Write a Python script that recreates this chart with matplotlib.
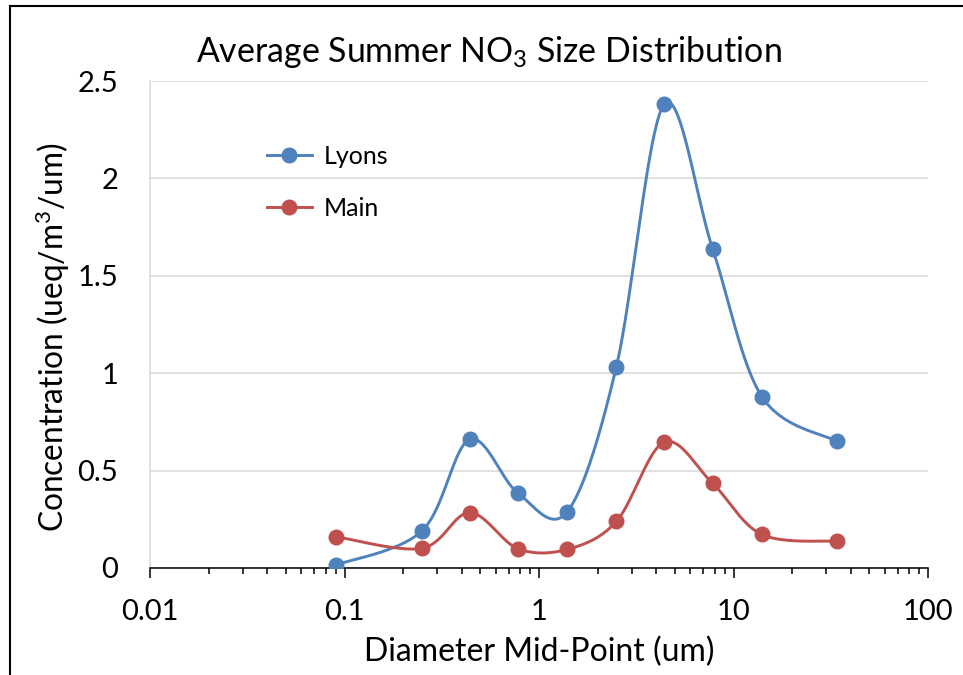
import numpy as np
import matplotlib
matplotlib.use("Agg")
import matplotlib.pyplot as plt
from matplotlib.lines import Line2D
from matplotlib.ticker import LogLocator, FixedLocator, FuncFormatter, NullFormatter

plt.rcParams['font.family'] = ['Lato', 'DejaVu Sans']
plt.rcParams['mathtext.default'] = 'regular'

# size distribution, summer averages (ueq/m3/um)
diameter = [0.09, 0.25, 0.44, 0.78, 1.4, 2.5, 4.4, 7.8, 14, 34]
lyons = [0.015, 0.19, 0.66, 0.384, 0.29, 1.034, 2.38, 1.64, 0.879, 0.651]
main = [0.161, 0.101, 0.284, 0.099, 0.096, 0.239, 0.646, 0.435, 0.172, 0.137]

blue = '#4F81BD'
red = '#C0504D'


def smooth(xs, ys, n=40):
    # bezier curve through every point, built on log10(x) to follow the log axis
    pts = np.column_stack([np.log10(xs), np.asarray(ys, float)])
    pad = np.vstack([pts[0], pts, pts[-1]])
    t = np.linspace(0, 1, n)[:, None]
    out = []
    for i in range(len(pts) - 1):
        p0, p1, p2, p3 = pad[i], pad[i + 1], pad[i + 2], pad[i + 3]
        c1 = p1 + (p2 - p0) / 6
        c2 = p2 - (p3 - p1) / 6
        seg = (1 - t) ** 3 * p1 + 3 * (1 - t) ** 2 * t * c1 + 3 * (1 - t) * t ** 2 * c2 + t ** 3 * p2
        out.append(seg if i == 0 else seg[1:])
    out = np.vstack(out)
    return 10 ** out[:, 0], out[:, 1]


fig = plt.figure(figsize=(9.63, 6.75), dpi=100)
ax = fig.add_axes([150 / 963, 1 - 568 / 675, 778 / 963, 487 / 675])

for ys, col in [(lyons, blue), (main, red)]:
    sx, sy = smooth(diameter, ys)
    ax.plot(sx, sy, color=col, lw=2.1, zorder=3)
    ax.plot(diameter, ys, 'o', color=col, ms=10.5, zorder=4)

ax.set_xscale('log')
ax.set_xlim(0.01, 100)
ax.set_ylim(0, 2.5)
ax.set_yticks([0, 0.5, 1, 1.5, 2, 2.5])
ax.yaxis.set_major_formatter(FuncFormatter(lambda v, p: f'{v:g}'))
ax.xaxis.set_major_locator(FixedLocator([0.01, 0.1, 1, 10, 100]))
ax.xaxis.set_major_formatter(FuncFormatter(lambda v, p: f'{v:g}'))
ax.xaxis.set_minor_locator(LogLocator(base=10, subs=np.arange(2, 10), numticks=20))
ax.xaxis.set_minor_formatter(NullFormatter())

ax.grid(axis='y', color='#d9d9d9', lw=1.1)
ax.set_axisbelow(True)
ax.spines['top'].set_visible(False)
ax.spines['right'].set_visible(False)
ax.spines['left'].set_color('#d9d9d9')
ax.spines['left'].set_linewidth(1.1)
ax.spines['bottom'].set_linewidth(1.1)
ax.tick_params(axis='y', length=0, pad=23, labelsize=21)
ax.tick_params(axis='x', which='major', direction='out', length=7, width=1.1, pad=15, labelsize=21)
ax.tick_params(axis='x', which='minor', direction='out', length=4.3, width=1.1)

handles = [Line2D([], [], color=blue, lw=2.1, marker='o', ms=10.5),
           Line2D([], [], color=red, lw=2.1, marker='o', ms=10.5)]
ax.legend(handles, ['Lyons', 'Main'], loc='upper left', bbox_to_anchor=(0.15, 0.869),
          frameon=False, fontsize=18, handlelength=1.8, handletextpad=0.5,
          labelspacing=1.16, borderpad=0, borderaxespad=0)

fig.text(489 / 963, 1 - 62 / 675, 'Average Summer NO$_3$ Size Distribution',
         ha='center', va='baseline', fontsize=24.4)
fig.text(539 / 963, 1 - 661 / 675, 'Diameter Mid-Point (um)',
         ha='center', va='baseline', fontsize=23)
fig.text(53 / 963, 1 - 337 / 675, 'Concentration (ueq/m$^3$/um)',
         ha='center', va='center', rotation=90, fontsize=22.8)

# outer chart border
bx, by = 9.5 / 963, 1 - 5.5 / 675
fig.add_artist(Line2D([bx, bx], [0, by], color='black', lw=1.5))
fig.add_artist(Line2D([bx, 1], [by, by], color='black', lw=1.5))

fig.savefig('out.png', dpi=100)
